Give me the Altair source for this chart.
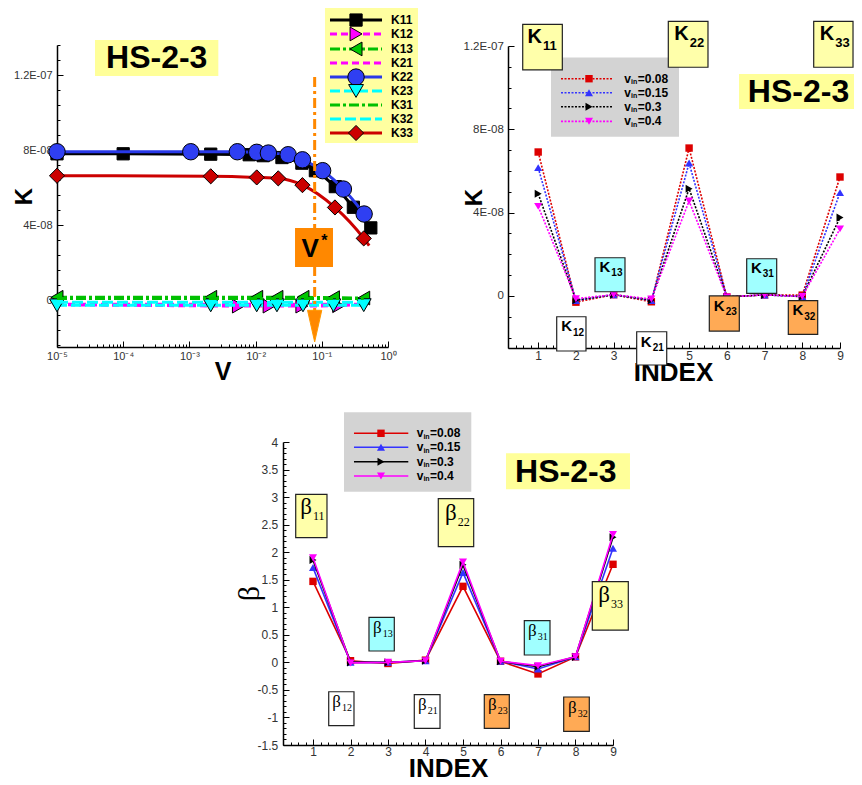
import altair as alt
import pandas as pd

FONT = "Liberation Sans"
SERIF = "Liberation Serif"

# =====================================================================
# values
# =====================================================================
# ---- panel 1 : K components against V (log axis)
V_K11 = [1e-5, 1e-4, 2.1e-3, 8e-3, 1.3e-2, 2.5e-2, 5e-2, 8e-2, 0.16, 0.30, 0.55]
K11 = [7.80e-8, 7.80e-8, 7.78e-8, 7.75e-8, 7.70e-8, 7.60e-8, 7.30e-8, 6.90e-8, 6.05e-8, 4.95e-8, 3.85e-8]
MK_K11 = [True, True, True, True, True, True, True, True, True, True, True]
V_K22 = [1e-5, 1.05e-3, 5.3e-3, 1.04e-2, 1.56e-2, 3.1e-2, 5.1e-2, 0.103, 0.212, 0.436]
K22 = [7.91e-8, 7.91e-8, 7.91e-8, 7.88e-8, 7.84e-8, 7.75e-8, 7.48e-8, 6.90e-8, 5.92e-8, 4.59e-8]
MK_K22 = [True, True, True, True, True, True, True, True, True, True]
V_K33 = [1e-5, 2.1e-3, 1.04e-2, 2.2e-2, 5.1e-2, 0.158, 0.43, 0.52]
K33 = [6.63e-8, 6.60e-8, 6.54e-8, 6.49e-8, 6.13e-8, 4.94e-8, 3.29e-8, 2.90e-8]
MK_K33 = [True, True, True, True, True, True, True, False]
V_K12 = [1e-5, 5.5e-3, 1.6e-2, 5.0e-2, 0.18, 0.30]
K12 = [-0.25e-8, -0.32e-8, -0.32e-8, -0.32e-8, -0.30e-8, -0.25e-8]
MK_K12 = [False, True, True, True, True, False]
V_NZ = [1e-5, 2.1e-3, 1.04e-2, 2.1e-2, 5.2e-2, 0.15, 0.43]
MK_NZ = [True, True, True, True, True, True, True]
K13 = [0.15e-8, 0.15e-8, 0.15e-8, 0.15e-8, 0.15e-8, 0.13e-8, 0.11e-8]
K21 = [-0.22e-8, -0.22e-8, -0.22e-8, -0.22e-8, -0.22e-8, -0.22e-8, -0.22e-8]
K23 = [-0.28e-8, -0.28e-8, -0.28e-8, -0.28e-8, -0.28e-8, -0.28e-8, -0.27e-8]
K31 = [0.08e-8, 0.08e-8, 0.08e-8, 0.08e-8, 0.08e-8, 0.08e-8, 0.08e-8]
K32 = [-0.12e-8, -0.12e-8, -0.12e-8, -0.12e-8, -0.12e-8, -0.12e-8, -0.12e-8]
V_STAR = 0.078

# ---- panels 2 and 3 : values for each index, four inlet velocities
INDEX = [1, 2, 3, 4, 5, 6, 7, 8, 9]
VIN = ["0.08", "0.15", "0.3", "0.4"]
K_V008 = [6.91e-8, -0.30e-8, 0.06e-8, -0.28e-8, 7.10e-8, -0.05e-8, 0.05e-8, 0.04e-8, 5.71e-8]
K_V015 = [6.16e-8, -0.22e-8, 0.06e-8, -0.22e-8, 6.38e-8, -0.05e-8, 0.05e-8, -0.03e-8, 4.96e-8]
K_V03 = [4.91e-8, -0.20e-8, 0.06e-8, -0.20e-8, 5.15e-8, -0.05e-8, 0.05e-8, -0.03e-8, 3.76e-8]
K_V04 = [4.30e-8, -0.13e-8, 0.06e-8, -0.15e-8, 4.56e-8, -0.05e-8, 0.05e-8, -0.03e-8, 3.22e-8]
B_V008 = [1.47, 0.03, -0.02, 0.04, 1.38, 0.02, -0.21, 0.10, 1.78]
B_V015 = [1.72, 0.00, 0.00, 0.03, 1.63, 0.02, -0.12, 0.10, 2.07]
B_V03 = [1.86, 0.00, 0.00, 0.03, 1.77, 0.02, -0.08, 0.10, 2.27]
B_V04 = [1.90, -0.01, 0.00, 0.03, 1.82, 0.02, -0.06, 0.10, 2.32]
K_BY_VIN = {"0.08": K_V008, "0.15": K_V015, "0.3": K_V03, "0.4": K_V04}
B_BY_VIN = {"0.08": B_V008, "0.15": B_V015, "0.3": B_V03, "0.4": B_V04}

# ---- tick positions (labels only on the major ones)
TICKS_V = [float(f"{m}e{e}") for e in range(-5, 0) for m in range(1, 10)] + [1.0]
TICKS_K1 = [float(f"{round(i * 0.8, 1)}e-8") for i in range(-3, 18)]
TICKS_K2 = [float(f"{i}e-8") for i in range(-2, 13)]
TICKS_B = [round(i * 0.1, 1) for i in range(-15, 41)]
TICKS_I = [round(i * 0.2, 1) for i in range(1, 46)]

# =====================================================================
# styles
# =====================================================================
STY1 = {
    "K11": dict(color="black", dash=None, shape="square", fill="black", size=150),
    "K12": dict(color="#ff00ff", dash=[7, 4], shape="triangle-right", fill="#ff00ff", size=190),
    "K13": dict(color="#00c000", dash=[10, 3, 3, 3], shape="triangle-left", fill="#00c800", size=190),
    "K21": dict(color="#ff00ff", dash=[7, 4]),
    "K22": dict(color="#2838e8", dash=None, shape="circle", fill="#2f3ff2", size=270),
    "K23": dict(color="#00ffff", dash=[10, 4], shape="triangle-down", fill="#00ffff", size=220),
    "K31": dict(color="#00c000", dash=[10, 3, 3, 3]),
    "K32": dict(color="#00ffff", dash=[11, 4]),
    "K33": dict(color="#cc0000", dash=None, shape="diamond", fill="#cc0000", size=230),
}
SMOOTH1 = {"K11", "K22", "K33"}
SER1 = [
    ("K11", V_K11, K11, MK_K11), ("K12", V_K12, K12, MK_K12), ("K13", V_NZ, K13, MK_NZ),
    ("K21", V_NZ, K21, None), ("K22", V_K22, K22, MK_K22), ("K23", V_NZ, K23, MK_NZ),
    ("K31", V_NZ, K31, None), ("K32", V_NZ, K32, None), ("K33", V_K33, K33, MK_K33),
]
VSTY = {
    "0.08": ("#dd0000", "square", 55),
    "0.15": ("#3333ff", "triangle-up", 65),
    "0.3": ("black", "triangle-right", 65),
    "0.4": ("#ff00ff", "triangle-down", 65),
}
YEL, CYA, WHI, ORA = "#ffffaa", "#a0ffff", "white", "#ffaa55"

# =====================================================================
# scales and axes  (each panel has its own pixel range inside one view)
# =====================================================================
LOGMAJ = "abs(log(datum.value)/LN10 - round(log(datum.value)/LN10)) < 0.001"
K4MAJ = "abs(datum.value/4e-8 - round(datum.value/4e-8)) < 0.01"
B5MAJ = "abs(datum.value*2 - round(datum.value*2)) < 0.01"
IMAJ = "abs(datum.value - round(datum.value)) < 0.01"
LBL_V = f"({LOGMAJ}) ? ['10⁰','10⁻¹','10⁻²','10⁻³','10⁻⁴','10⁻⁵'][-round(log(datum.value)/LN10)] : ''"
LBL_K = f"({K4MAJ}) ? ['0','4E-08','8E-08','1.2E-07'][round(datum.value/4e-8)] : ''"
LBL_B = f"({B5MAJ}) ? '' + round(datum.value*2)/2 : ''"
LBL_I = f"({IMAJ}) ? '' + round(datum.value) : ''"


def make_axis(orient, offset, values, test, lbl, lsize, lpad, title, tfont, tsize, tweight, tx, ty):
    return alt.Axis(
        orient=orient, offset=offset, values=values, labelExpr=lbl,
        tickSize={"expr": f"({test}) ? -6 : -3"}, tickColor="black", tickWidth=1,
        domainColor="black", domainWidth=1.5, grid=False,
        labelFont=FONT, labelFontSize=lsize, labelColor="#333", labelPadding=lpad,
        labelOverlap=False, labelFlush=False,
        title=title, titleFont=tfont, titleFontSize=tsize, titleFontWeight=tweight,
        titleColor="black", titleX=tx, titleY=ty, titleBaseline="alphabetic",
        titleAlign="center", titleAngle=270 if orient == "left" else 0,
    )


PANEL = {
    1: (alt.Scale(type="log", domain=[1e-5, 1], range=[49, 380], nice=False),
        alt.Scale(domain=[-2.5e-8, 1.36e-7], range=[339, 37], nice=False, zero=False),
        make_axis("bottom", -431, TICKS_V, LOGMAJ, LBL_V, 11, 9, "V", FONT, 25, "bold", 214.5, 32),
        make_axis("left", -49, TICKS_K1, K4MAJ, LBL_K, 11, 11, "K", FONT, 24, "bold", -25.3, 188)),
    2: (alt.Scale(domain=[0.2, 9], range=[500, 832], nice=False, zero=False),
        alt.Scale(domain=[-2.5e-8, 1.2e-7], range=[340, 38], nice=False, zero=False),
        make_axis("bottom", -430, TICKS_I, IMAJ, LBL_I, 12, 8, "INDEX", FONT, 26, "bold", 665, 32),
        make_axis("left", -500, TICKS_K2, K4MAJ, LBL_K, 11.5, 10.7, "K", FONT, 24, "bold", -26.3, 189)),
    3: (alt.Scale(domain=[0.2, 9], range=[275, 605], nice=False, zero=False),
        alt.Scale(domain=[-1.5, 4], range=[737, 434], nice=False, zero=False),
        make_axis("bottom", -33, TICKS_I, IMAJ, LBL_I, 12, 7.5, "INDEX", FONT, 26, "bold", 440, 31.7),
        make_axis("left", -275, TICKS_B, B5MAJ, LBL_B, 12, 11.3, "β", SERIF, 30, "normal", -24.6, 585)),
}


# every layer of a panel carries the same axis so that they merge into one
def X(p, f="x"):
    return alt.X(f"{f}:Q", scale=PANEL[p][0], axis=PANEL[p][2])


def Y(p, f="y"):
    return alt.Y(f"{f}:Q", scale=PANEL[p][1], axis=PANEL[p][3])


def rects(p, rows, stroke=True):
    df = pd.DataFrame(rows, columns=["x1", "x2", "y1", "y2", "fill"])
    kw = dict(stroke="#222", strokeWidth=1.2) if stroke else dict(strokeWidth=0)
    return alt.Chart(df).mark_rect(**kw).encode(
        x=X(p, "x1"), x2="x2:Q", y=Y(p, "y1"), y2="y2:Q",
        fill=alt.Fill("fill:N", scale=None))


def texts(p, xs, ys, ts, **kw):
    df = pd.DataFrame({"x": xs, "y": ys, "t": ts})
    return alt.Chart(df).mark_text(color="black", **kw).encode(x=X(p), y=Y(p), text="t:N")


def frame(xs, ys, g):
    return pd.DataFrame({"x": xs, "y": ys, "g": g})


# =====================================================================
# panel 1
# =====================================================================
LEG1_Y = [14.93e-8, 14.19e-8, 13.39e-8, 12.64e-8, 11.89e-8, 11.15e-8, 10.40e-8, 9.65e-8, 8.91e-8]
LEG1_LINE = [0.133, 0.812]
LEG1_MARK = 0.329
LEG1_TEXT = 1.109

L1 = [rects(1, [(0.1117, 2.84, 15.57e-8, 8.373e-8, "#ffffa0")], stroke=False)]
for i, (name, vs, ks, mk) in enumerate(SER1):
    st = STY1[name]
    ly = LEG1_Y[i]
    dfl = pd.concat([frame(vs, ks, "data"), frame(LEG1_LINE, [ly, ly], "legend")])
    kw = dict(color=st["color"], strokeWidth=3,
              interpolate="monotone" if name in SMOOTH1 else "linear")
    if st["dash"]:
        kw["strokeDash"] = st["dash"]
    L1.append(alt.Chart(dfl).mark_line(**kw).encode(x=X(1), y=Y(1), detail="g:N"))
    if mk:
        px = [v for v, m in zip(vs, mk) if m] + [LEG1_MARK]
        py = [k for k, m in zip(ks, mk) if m] + [ly]
        L1.append(alt.Chart(frame(px, py, "m")).mark_point(
            shape=st["shape"], filled=True, fill=st["fill"], stroke="black",
            strokeWidth=1, size=st["size"], opacity=1).encode(x=X(1), y=Y(1)))
L1.append(texts(1, [LEG1_TEXT] * 9, LEG1_Y, [s[0] for s in SER1], align="left",
                baseline="middle", font=FONT, fontSize=12, fontWeight="bold"))
# V* marker line and arrow
L1.append(alt.Chart(pd.DataFrame({"x": [V_STAR], "y1": [11.89e-8], "y2": [-1.4e-8]}))
          .mark_rule(color="#ff8800", strokeWidth=3, strokeDash=[10, 4, 3, 4])
          .encode(x=X(1), y=Y(1, "y1"), y2="y2:Q"))
L1.append(alt.Chart(pd.DataFrame({"x": [V_STAR], "y": [-1.387e-8]}))
          .mark_point(shape="M-0.45,-1L0,1L0.45,-1Z", filled=True, fill="#ff8800",
                      stroke="#ff9900", strokeWidth=1, size=1000, opacity=1)
          .encode(x=X(1), y=Y(1)))
L1.append(rects(1, [(3.75e-5, 2.735e-3, 13.87e-8, 11.95e-8, "#ffff99"),
                    (0.0394, 0.1476, 3.84e-8, 1.76e-8, "#ff8800")], stroke=False))
L1.append(texts(1, [3.21e-4], [12.357e-8], ["HS-2-3"], align="center",
                baseline="alphabetic", font=FONT, fontSize=32, fontWeight="bold"))
L1.append(texts(1, [0.067], [2.32e-8], ["V"], align="center", baseline="alphabetic",
                font=FONT, fontSize=26, fontWeight="bold"))
L1.append(texts(1, [0.067], [2.32e-8], ["*"], align="center", baseline="alphabetic",
                font=FONT, fontSize=16, fontWeight="bold", dx=14, dy=-11))


# =====================================================================
# panels 2 and 3 (shared builder)
# =====================================================================
def index_panel(p, values, dotted, leg_box, leg_y, leg_line, leg_mark, leg_text,
                boxes, hs_box, hs_text, big, small, main_txt, main_font, main_w,
                big_sz, small_sz, sub_big, sub_small, dy_big, dy_small):
    L = [rects(p, [leg_box + ("#d3d3d3",)], stroke=False)]
    for j, v in enumerate(VIN):
        col, shp, sz = VSTY[v]
        ly = leg_y[j]
        dfl = pd.concat([frame(INDEX, values[v], "data"), frame(leg_line, [ly, ly], "legend")])
        kw = dict(color=col, strokeWidth=1.6)
        if dotted:
            kw["strokeDash"] = [2, 1.5]
        L.append(alt.Chart(dfl).mark_line(**kw).encode(x=X(p), y=Y(p), detail="g:N"))
        dfm = pd.concat([frame(INDEX, values[v], "data"), frame([leg_mark], [ly], "legend")])
        L.append(alt.Chart(dfm).mark_point(shape=shp, filled=True, fill=col, size=sz,
                                           opacity=1, strokeWidth=0).encode(x=X(p), y=Y(p)))
    n = len(VIN)
    L.append(texts(p, [leg_text] * n, leg_y, ["v"] * n, align="left", baseline="middle",
                   font=FONT, fontSize=12, fontWeight="bold"))
    L.append(texts(p, [leg_text] * n, leg_y, ["in"] * n, align="left", baseline="middle",
                   font=FONT, fontSize=7, fontWeight="bold", dx=6.7, dy=3.5))
    L.append(texts(p, [leg_text] * n, leg_y, ["=" + v for v in VIN], align="left",
                   baseline="middle", font=FONT, fontSize=12, fontWeight="bold", dx=13.4))
    L.append(rects(p, [b[:5] for b in boxes], stroke=True))
    L.append(rects(p, [hs_box + ("#ffff99",)], stroke=False))
    for grp, msz, ssz, dy in ((big, big_sz, sub_big, dy_big), (small, small_sz, sub_small, dy_small)):
        xs = [g[0] for g in grp]
        ys = [g[1] for g in grp]
        L.append(texts(p, xs, ys, [main_txt] * len(grp), align="right", baseline="alphabetic",
                       font=main_font, fontSize=msz, fontWeight=main_w))
        L.append(texts(p, xs, ys, [g[2] for g in grp], align="left", baseline="alphabetic",
                       font=main_font, fontSize=ssz, fontWeight=main_w, dx=1, dy=dy))
    L.append(texts(p, [hs_text[0]], [hs_text[1]], ["HS-2-3"], align="center",
                   baseline="alphabetic", font=FONT, fontSize=32, fontWeight="bold"))
    return L


L2 = index_panel(
    2, K_BY_VIN, True,
    leg_box=(1.34, 4.733, 11.45e-8, 7.643e-8),
    leg_y=[10.43e-8, 9.755e-8, 9.083e-8, 8.382e-8],
    leg_line=[1.605, 2.991], leg_mark=2.347, leg_text=3.283,
    boxes=[(0.59, 1.64, 13.04e-8, 10.85e-8, YEL), (4.449, 5.501, 13.18e-8, 10.98e-8, YEL),
           (8.303, 9.345, 13.18e-8, 10.98e-8, YEL), (2.506, 3.301, 1.834e-8, 0.2016e-8, CYA),
           (6.527, 7.322, 1.786e-8, 0.125e-8, CYA), (1.491, 2.267, -0.9986e-8, -2.645e-8, WHI),
           (3.611, 4.407, -1.719e-8, -3.317e-8, WHI), (5.536, 6.331, 0.0, -1.685e-8, ORA),
           (7.63, 8.409, -0.23e-8, -1.843e-8, ORA)],
    hs_box=(6.323, 9.371, 10.65e-8, 8.97e-8), hs_text=(7.9, 9.323e-8),
    big=[(1.101, 12.13e-8, "11"), (4.99, 12.29e-8, "22"), (8.849, 12.29e-8, "33")],
    small=[(2.912, 1.162e-8, "13"), (6.927, 1.114e-8, "31"), (1.896, -1.685e-8, "12"),
           (4.009, -2.439e-8, "21"), (5.944, -0.7105e-8, "23"), (8.027, -0.917e-8, "32")],
    main_txt="K", main_font=FONT, main_w="bold", big_sz=20, small_sz=15,
    sub_big=13, sub_small=10, dy_big=6.7, dy_small=4.5)

L3 = index_panel(
    3, B_BY_VIN, False,
    leg_box=(1.827, 5.221, 4.539, 3.098),
    leg_y=[4.158, 3.904, 3.642, 3.383],
    leg_line=[2.093, 3.541], leg_mark=2.813, leg_text=3.765,
    boxes=[(0.539, 1.373, 3.051, 2.263, YEL), (4.341, 5.285, 2.971, 2.10, YEL),
           (8.448, 9.408, 1.464, 0.587, YEL), (2.493, 3.168, 0.818, 0.206, CYA),
           (6.635, 7.32, 0.756, 0.134, CYA), (1.419, 2.093, -0.533, -1.15, WHI),
           (3.701, 4.387, -0.587, -1.197, WHI), (5.568, 6.235, -0.587, -1.197, ORA),
           (7.685, 8.368, -0.629, -1.252, ORA)],
    hs_box=(6.147, 9.453, 3.795, 3.141), hs_text=(7.741, 3.279),
    big=[(0.973, 2.699, "11"), (4.832, 2.593, "22"), (8.92, 1.099, "33")],
    small=[(2.832, 0.540, "13"), (6.965, 0.478, "31"), (1.747, -0.81, "12"),
           (4.032, -0.859, "21"), (5.899, -0.859, "23"), (8.032, -0.914, "32")],
    main_txt="β", main_font=SERIF, main_w="normal", big_sz=23, small_sz=17,
    sub_big=12, sub_small=10, dy_big=6, dy_small=4)

# note: configure(...) replaces the whole config, so it comes before configure_view
chart = (
    alt.layer(alt.layer(*L1), alt.layer(*L2), alt.layer(*L3))
    .resolve_scale(x="independent", y="independent")
    .properties(width=846, height=770, padding=0)
    .configure(font=FONT)
    .configure_view(stroke=None, strokeWidth=0)
)

chart.save("out.html", embed_options={"renderer": "svg", "actions": False})
